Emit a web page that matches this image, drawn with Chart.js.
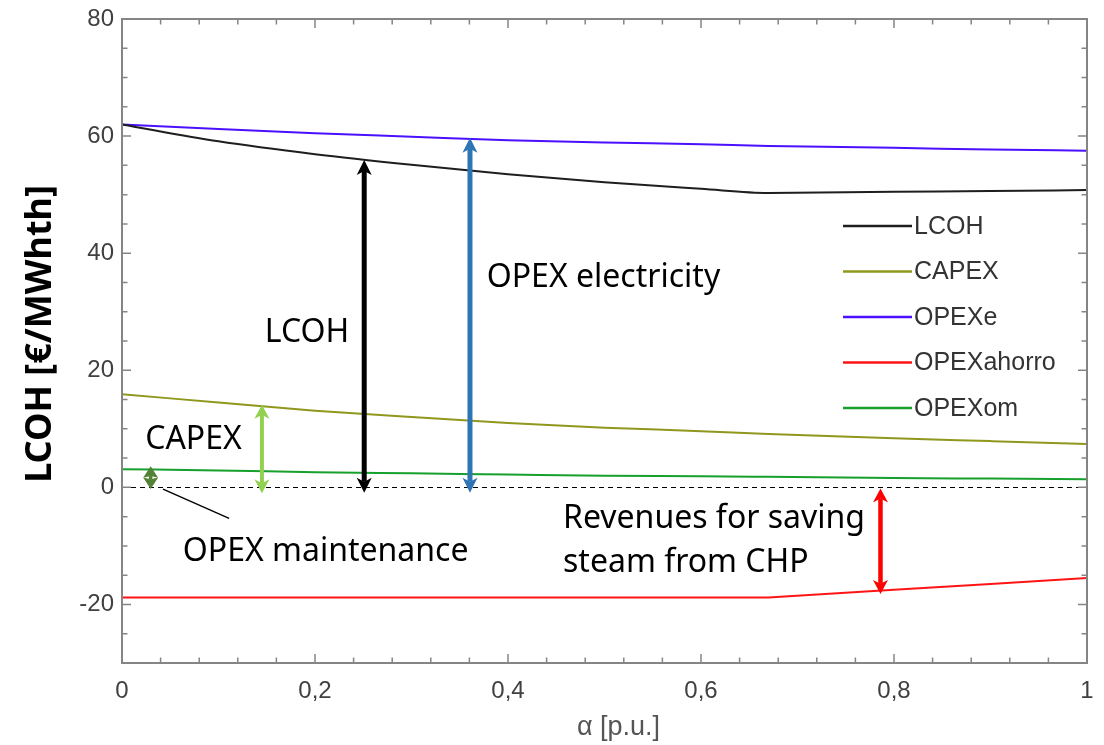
<!DOCTYPE html>
<html><head><meta charset="utf-8">
<script src="https://cdn.jsdelivr.net/npm/chart.js@4/dist/chart.umd.min.js"></script>
<style>html,body{margin:0;padding:0;background:#fff;overflow:hidden}#wrap{width:1104px;height:745px}</style>
</head><body><div id="wrap"><canvas id="c" width="1104" height="745"></canvas></div>
<script>
// ---- data ----
const alphas     = [0, 0.1, 0.2, 0.3, 0.4, 0.5, 0.6, 0.67, 0.8, 0.9, 1];
const lcoh       = [62.0, 59.1, 56.9, 55.1, 53.5, 52.1, 51.0, 50.3, 50.5, 50.6, 50.8];
const capex      = [15.9, 14.5, 13.1, 12.0, 11.0, 10.2, 9.6, 9.1, 8.4, 7.9, 7.4];
const opexE      = [62.0, 61.2, 60.5, 59.9, 59.3, 58.9, 58.6, 58.3, 58.0, 57.7, 57.5];
const opexAhorro = [-18.8, -18.8, -18.8, -18.8, -18.8, -18.8, -18.8, -18.8, -17.5, -16.5, -15.5];
const opexOm     = [3.1, 2.9, 2.6, 2.4, 2.2, 2.0, 1.9, 1.8, 1.6, 1.5, 1.4];
const seriesNames = ['LCOH', 'CAPEX', 'OPEXe', 'OPEXahorro', 'OPEXom'];

const xTickValues = [0, 0.2, 0.4, 0.6, 0.8, 1];
const xTickLabels = ['0', '0,2', '0,4', '0,6', '0,8', '1'];
const yTickValues = [-20, 0, 20, 40, 60, 80];
const yTickLabels = ['-20', '0', '20', '40', '60', '80'];
const xTitle = 'α [p.u.]';
const yTitle = 'LCOH [€/MWhth]';

// annotation arrows (alpha, from value, to value)
const arrowX    = [0.0297, 0.145, 0.251, 0.3606, 0.786];
const arrowFrom = [-0.3, -1.0, -0.9, -0.9, -0.2];
const arrowTo   = [3.6, 14.1, 55.9, 59.7, -18.2];
// annotation texts (alpha, value of baseline)
const noteText = ['LCOH', 'OPEX electricity', 'CAPEX', 'OPEX maintenance', 'Revenues for saving', 'steam from CHP'];
const noteX    = [0.148, 0.378, 0.024, 0.063, 0.457, 0.457];
const noteY    = [24.85, 34.2, 6.47, -12.6, -7.0, -14.5];

// ---- styles ----
const seriesColors = ['#1e1e1e', '#8f971c', '#4a10ff', '#ff1414', '#17a02c'];
const seriesSmooth = [true, true, true, false, true];
const arrowColors = ['#548235', '#92D050', '#000000', '#2E75B6', '#FF0000'];
const arrowShaft  = [3.5, 4, 5, 5, 4.5];
const arrowHeadL  = [11.5, 14, 15, 15, 14];
const arrowHeadW  = [7.5, 7.5, 7.5, 7.5, 7.5];
const arrowNotch  = [0.85, 0.72, 0.72, 0.72, 0.72];
const axisGray = '#858585';

const datasets = [lcoh, capex, opexE, opexAhorro, opexOm].map((vals, i) => ({
  label: seriesNames[i],
  data: alphas.map((a, k) => ({x: a, y: vals[k]})),
  borderColor: seriesColors[i],
  backgroundColor: seriesColors[i],
  borderWidth: 2,
  pointRadius: 0,
  tension: seriesSmooth[i] ? 0.4 : 0,
  cubicInterpolationMode: seriesSmooth[i] ? 'monotone' : 'default',
  fill: false
}));

function drawArrow(ctx, x, yA, yB, color, w, hl, hw, nf) {
  ctx.save();
  ctx.fillStyle = color; ctx.strokeStyle = color;
  const dir = yB < yA ? -1 : 1;
  const notch = hl * nf;
  ctx.lineWidth = w; ctx.lineCap = 'butt';
  ctx.beginPath();
  ctx.moveTo(x, yA + dir * notch);
  ctx.lineTo(x, yB - dir * notch);
  ctx.stroke();
  const head = (tipY, d) => {
    ctx.beginPath();
    ctx.moveTo(x, tipY);
    ctx.lineTo(x - hw, tipY + d * hl);
    ctx.lineTo(x, tipY + d * notch);
    ctx.lineTo(x + hw, tipY + d * hl);
    ctx.closePath(); ctx.fill();
  };
  head(yB, -dir);
  head(yA, dir);
  ctx.restore();
}

const decor = {
  id: 'decor',
  beforeDatasetsDraw(chart) {
    const {ctx, chartArea: a, scales: {x, y}} = chart;
    ctx.save();
    ctx.strokeStyle = '#000'; ctx.lineWidth = 1; ctx.setLineDash([5, 4]);
    const y0 = Math.round(y.getPixelForValue(0)) + 0.5;
    ctx.beginPath(); ctx.moveTo(a.left, y0); ctx.lineTo(a.right, y0); ctx.stroke();
    ctx.restore();
  },
  afterDatasetsDraw(chart) {
    const {ctx, chartArea: a, scales: {x, y}} = chart;
    for (let i = 0; i < arrowX.length; i++) {
      drawArrow(ctx, x.getPixelForValue(arrowX[i]), y.getPixelForValue(arrowFrom[i]), y.getPixelForValue(arrowTo[i]),
        arrowColors[i], arrowShaft[i], arrowHeadL[i], arrowHeadW[i], arrowNotch[i]);
    }
    ctx.save();
    ctx.strokeStyle = '#000'; ctx.lineWidth = 1.4;
    ctx.beginPath();
    ctx.moveTo(x.getPixelForValue(0.0425), y.getPixelForValue(-0.3));
    ctx.lineTo(x.getPixelForValue(0.111), y.getPixelForValue(-5.3));
    ctx.stroke();
    ctx.fillStyle = '#000';
    ctx.font = '32px "Noto Sans"';
    ctx.textAlign = 'left'; ctx.textBaseline = 'alphabetic';
    for (let i = 0; i < noteText.length; i++) {
      ctx.fillText(noteText[i], x.getPixelForValue(noteX[i]), y.getPixelForValue(noteY[i]));
    }
    ctx.restore();
  },
  afterDraw(chart) {
    const {ctx, chartArea: a, scales: {x, y}} = chart;
    ctx.save();
    ctx.strokeStyle = axisGray; ctx.lineWidth = 2;
    ctx.strokeRect(a.left, a.top, a.right - a.left, a.bottom - a.top);
    ctx.lineWidth = 1.5;
    const isMaj = (v, arr) => arr.some(t => Math.abs(t - v) < 1e-9);
    for (let i = 0; i <= 25; i++) {
      const v = i * 0.04;
      const px = x.getPixelForValue(v);
      const L = isMaj(v, xTickValues) ? 9 : 5.5;
      ctx.beginPath();
      ctx.moveTo(px, a.bottom); ctx.lineTo(px, a.bottom - L);
      ctx.moveTo(px, a.top); ctx.lineTo(px, a.top + L);
      ctx.stroke();
    }
    for (let v = -30; v <= 80; v += 5) {
      const py = y.getPixelForValue(v);
      const L = isMaj(v, yTickValues) ? 9 : 5.5;
      ctx.beginPath();
      ctx.moveTo(a.left, py); ctx.lineTo(a.left + L, py);
      ctx.moveTo(a.right, py); ctx.lineTo(a.right - L, py);
      ctx.stroke();
    }
    // legend
    const lx0 = a.right - 244, lx1 = a.right - 175;
    ctx.font = '25px "Liberation Sans", Arial, sans-serif';
    ctx.textBaseline = 'middle'; ctx.textAlign = 'left';
    chart.data.datasets.forEach((ds, i) => {
      const ly = a.top + 207 + i * 45.5;
      ctx.strokeStyle = ds.borderColor; ctx.lineWidth = 2.5;
      ctx.beginPath(); ctx.moveTo(lx0, ly); ctx.lineTo(lx1, ly); ctx.stroke();
      ctx.fillStyle = '#333333';
      ctx.fillText(ds.label, lx1 + 2, ly + 1);
    });
    // axis titles
    ctx.fillStyle = '#555555';
    ctx.font = '27px "Liberation Sans", Arial, sans-serif';
    ctx.textAlign = 'center'; ctx.textBaseline = 'middle';
    ctx.fillText(xTitle, (a.left + a.right) / 2 + 14, a.bottom + 65);
    ctx.save();
    ctx.translate(41, (a.top + a.bottom) / 2 - 7);
    ctx.rotate(-Math.PI / 2);
    ctx.fillStyle = '#000';
    ctx.font = 'bold 36px "Noto Sans"';
    ctx.fillText(yTitle, 0, 0);
    ctx.restore();
    ctx.restore();
  }
};

new Chart(document.getElementById('c'), {
  type: 'line',
  data: {datasets},
  plugins: [decor],
  options: {
    responsive: false,
    animation: false,
    devicePixelRatio: 1,
    layout: {padding: {top: 19, right: 17, left: 0, bottom: 0}},
    plugins: {legend: {display: false}, tooltip: {enabled: false}},
    scales: {
      x: {
        type: 'linear', min: 0, max: 1,
        afterFit: s => { s.height = 82; s.paddingLeft = 0; s.paddingRight = 0; },
        afterBuildTicks: s => { s.ticks = xTickValues.map(v => ({value: v})); },
        grid: {display: false, drawTicks: false},
        border: {display: false},
        ticks: {
          autoSkip: false, maxRotation: 0, padding: 14,
          color: '#404040', font: {family: '"Liberation Sans", Arial, sans-serif', size: 24},
          callback: (v, i) => xTickLabels[i]
        }
      },
      y: {
        type: 'linear', min: -30, max: 80,
        afterFit: s => { s.width = 122; s.paddingTop = 0; s.paddingBottom = 0; },
        afterBuildTicks: s => { s.ticks = yTickValues.map(v => ({value: v})); },
        grid: {display: false, drawTicks: false},
        border: {display: false},
        ticks: {
          autoSkip: false, padding: 8,
          color: '#404040', font: {family: '"Liberation Sans", Arial, sans-serif', size: 24},
          callback: (v, i) => yTickLabels[i]
        }
      }
    }
  }
});
</script>
</body></html>
